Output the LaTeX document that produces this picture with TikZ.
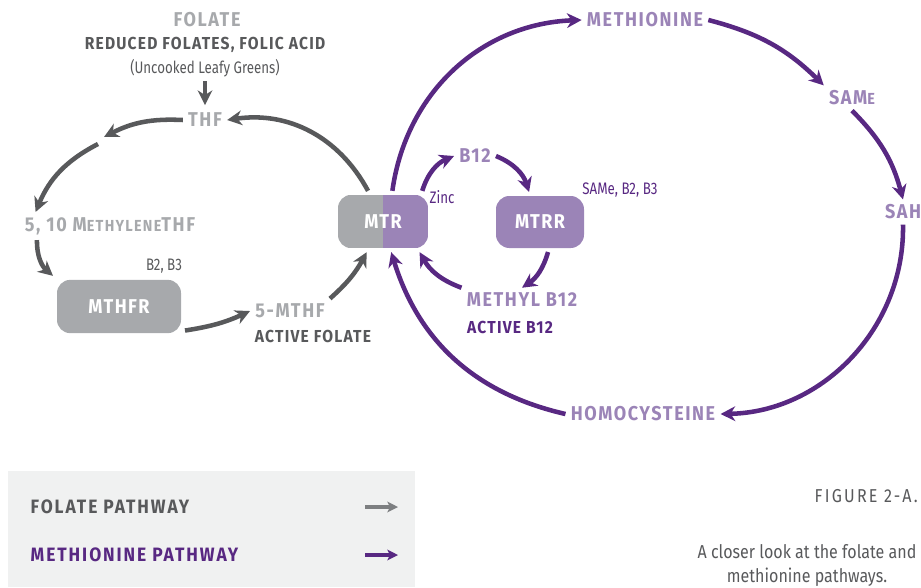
\documentclass[tikz,border=0pt]{standalone}
\usepackage{fontspec}
\setmainfont{Fira Sans}
\newfontfamily\narrowfont[FakeStretch=0.8]{Fira Sans}
\newfontfamily\captionfont[FakeStretch=0.86]{Fira Sans}
\newfontfamily\spacedcaption[FakeStretch=0.86, LetterSpace=12]{Fira Sans}
\newfontfamily\labelfont[FakeStretch=0.9, LetterSpace=8]{Fira Sans}
\newfontfamily\subfont[FakeStretch=0.9, LetterSpace=7]{Fira Sans}
\newfontfamily\keyfont[FakeStretch=0.9, LetterSpace=10]{Fira Sans}
\usetikzlibrary{arrows.meta,positioning}
\definecolor{folgray}{RGB}{167,169,172}
\definecolor{foldark}{RGB}{88,89,91}
\definecolor{metlight}{RGB}{155,132,183}
\definecolor{metdark}{RGB}{88,40,130}
\definecolor{legendbg}{RGB}{240,241,241}
\newcommand{\folatestep}[3]{%
  \draw[folline] (#1) to[#3] (#2)}
\newcommand{\methstep}[3]{%
  \draw[metline] (#1) to[#3] (#2)}
\newcommand{\smallcap}[1]{{\fontsize{12}{12}\selectfont #1}}

\begin{document}
\begin{tikzpicture}[x=0.75pt, y=-0.75pt,
    >={Stealth[length=11pt,width=11pt,inset=3.5pt]},
    big/.style={font=\labelfont\bfseries\fontsize{15}{17}\selectfont, inner sep=1pt, outer sep=3pt},
    fol/.style={big, text=folgray},
    met/.style={big, text=metlight},
    sub/.style={font=\subfont\bfseries\fontsize{13}{15}\selectfont, inner sep=1pt},
    note/.style={font=\narrowfont\fontsize{12.5}{14}\selectfont, inner sep=1pt},
    enzyme/.style={rectangle, rounded corners=10pt, text=white,
      font=\subfont\bfseries\fontsize{15}{17}\selectfont, outer sep=3pt},
    folline/.style={->, draw=foldark, line width=3.4pt},
    metline/.style={->, draw=metdark, line width=3.4pt}]
  \useasboundingbox (0,0) rectangle (921,587);

  % folate cycle
  \node[fol] (folate) at (207,20) {FOLATE};
  \node[sub, text=foldark] (reduced) at (205,45) {REDUCED FOLATES, FOLIC ACID};
  \node[note, text=foldark] (greens) at (205,68) {(Uncooked Leafy Greens)};
  \node[fol] (thf) at (205,120) {THF};
  \node[fol] (methylene) at (110,226) {5, 10 M\smallcap{ETHYLENE}THF};
  \node[enzyme, fill=folgray, minimum width=93pt, minimum height=40pt] (mthfr) at (119,306.5) {MTHFR};
  \node[note, text=foldark] (mthfrvit) at (164,266) {B2, B3};
  \node[fol] (mthf) at (290,311) {5-MTHF};
  \node[sub, text=foldark] (activefol) at (313,336) {ACTIVE FOLATE};
  \coordinate (gapa) at (104,137);
  \coordinate (gapb) at (98,144);

  \node[enzyme, minimum width=67.5pt, minimum height=40pt,
    path picture={
      \fill[folgray, sharp corners] (path picture bounding box.south west) rectangle (path picture bounding box.north);
      \fill[metlight, sharp corners] (path picture bounding box.north) rectangle (path picture bounding box.south east);}]
    (mtr) at (383,221.5) {MTR};

  \draw[folline, shorten <=2pt, shorten >=2pt] (greens.south) -- (thf.north);
  \folatestep{thf.west}{gapa}{bend right=15};
  \folatestep{gapb}{[xshift=12pt]methylene.north west}{bend right=20};
  \folatestep{[xshift=13pt]methylene.south west}{mthfr.north west}{bend right=25};
  \folatestep{mthfr.-20}{mthf.west}{bend right=8};
  \folatestep{mthf.north east}{mtr.-118}{bend right=10};
  \folatestep{mtr.116}{thf.east}{bend right=35};

  % methionine cycle
  \node[met] (methionine) at (645,20) {METHIONINE};
  \node[met] (same) at (852,98) {SAM\smallcap{E}};
  \node[met] (sah) at (903,212) {SAH};
  \node[met] (homocys) at (643,414) {HOMOCYSTEINE};

  \methstep{mtr.73}{methionine.west}{bend left=40};
  \methstep{methionine.east}{same.north west}{bend left=15};
  \methstep{same.south}{sah.north}{bend left=15};
  \methstep{sah.south}{homocys.east}{bend left=45};
  \methstep{homocys.west}{mtr.-75}{bend left=30};

  % B12 cycle
  \node[met] (b12) at (475,156) {B12};
  \node[note, text=metdark] (zinc) at (442,197) {Zinc};
  \node[enzyme, fill=metlight, minimum width=66pt, minimum height=39pt] (mtrr) at (540,222) {MTRR};
  \node[note, text=metdark] (mtrrvit) at (620,190) {SAMe, B2, B3};
  \node[met] (methylb12) at (522,300) {METHYL B12};
  \node[sub, text=metdark] (activeb12) at (510,327) {ACTIVE B12};

  \methstep{mtr.38}{b12.west}{bend left=25};
  \methstep{b12.east}{mtrr.110}{bend left=25};
  \methstep{mtrr.-75}{methylb12.north}{bend left=20};
  \methstep{methylb12.north west}{mtr.-40}{bend left=20};

  % key
  \fill[legendbg] (8,471) rectangle (415,587);
  \node[font=\keyfont\bfseries\fontsize{14.5}{16}\selectfont, text=foldark, anchor=west] (folkey) at (26,507) {FOLATE PATHWAY};
  \node[font=\keyfont\bfseries\fontsize{14.5}{16}\selectfont, text=metdark, anchor=west] (metkey) at (26,555) {METHIONINE PATHWAY};
  \coordinate (folkeya) at (365,507);
  \coordinate (folkeyb) at (398,507);
  \coordinate (metkeya) at (365,555);
  \coordinate (metkeyb) at (398,555);
  \draw[->, draw=folgray!75!black, line width=2.4pt, >={Stealth[length=8pt,width=8pt,inset=2pt]}] (folkeya) -- (folkeyb);
  \draw[->, draw=metdark, line width=2.4pt, >={Stealth[length=8pt,width=8pt,inset=2pt]}] (metkeya) -- (metkeyb);

  % caption
  \node[font=\spacedcaption\fontsize{14}{16}\selectfont, text=foldark, anchor=east, inner sep=0pt] (figno) at (918,496) {FIGURE 2-A.};
  \node[font=\captionfont\fontsize{14}{18.5}\selectfont, text=foldark, align=center, anchor=north, inner sep=0pt] (caption) at (807,544)
    {A closer look at the folate and\\methionine pathways.};
\end{tikzpicture}
\end{document}
